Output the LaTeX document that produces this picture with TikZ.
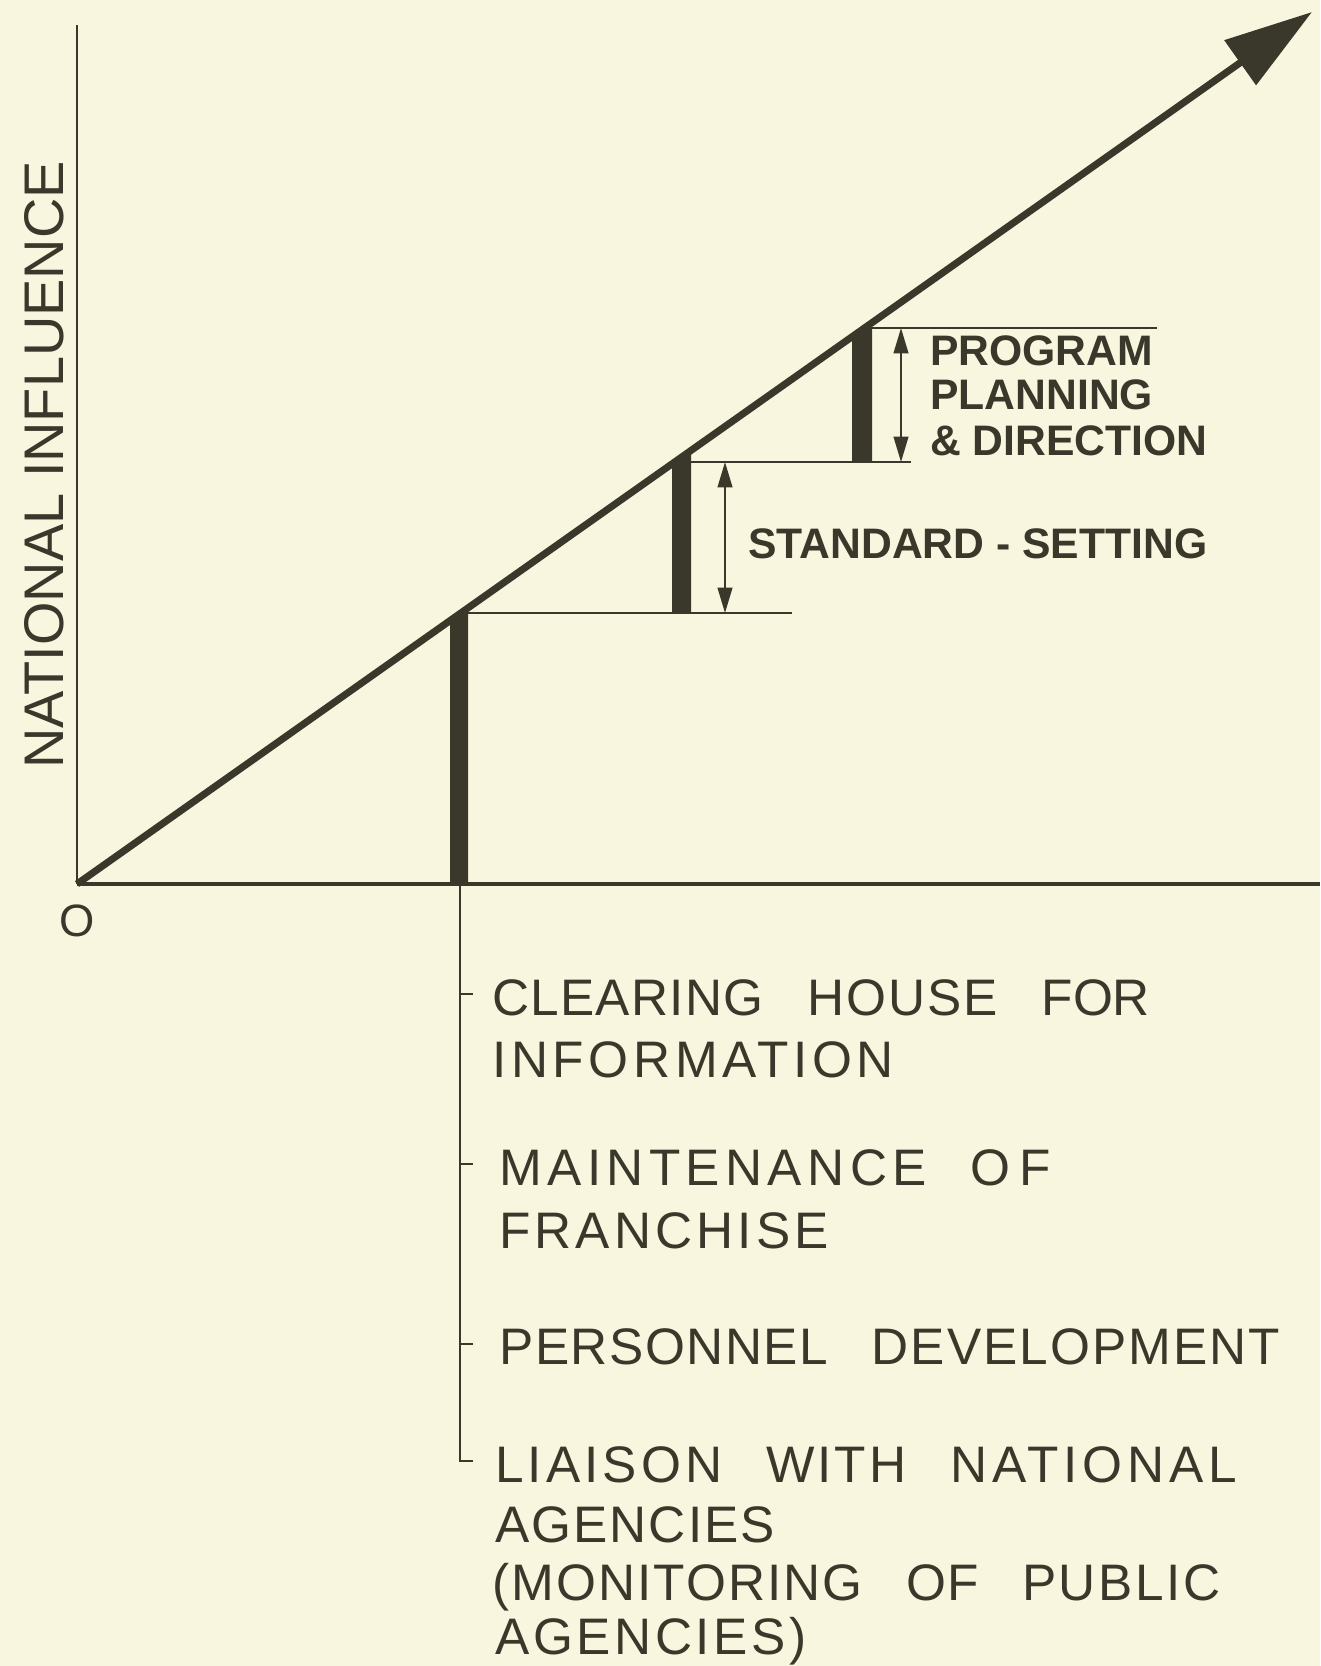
\documentclass[tikz,border=0pt]{standalone}
\usepackage{fontspec}
\setmainfont{Liberation Sans}
\newfontfamily\lowfont[LetterSpace=5]{Liberation Sans}
\usetikzlibrary{arrows.meta}
\definecolor{ink}{RGB}{58,56,42}
\definecolor{paper}{RGB}{248,246,222}
\newcommand\wsp{\hspace{0.85em}}
\newcommand\lsw[2]{{\addfontfeature{LetterSpace=#1}#2}}
\tikzset{
  lowtext/.style={anchor=base west, inner sep=0pt, text=ink, font=\lowfont\fontsize{38.5}{40}\selectfont},
  toptext/.style={anchor=base west, inner sep=0pt, text=ink, font=\fontsize{32}{36}\selectfont\bfseries},
  axisline/.style={draw=ink, line width=2.2pt},
  thinline/.style={draw=ink, line width=1.5pt},
  tickline/.style={draw=ink, line width=1.8pt},
  barfill/.style={fill=ink},
  dimarrow/.style={draw=ink, line width=1.5pt, {Triangle[length=19pt,width=11pt]}-{Triangle[length=19pt,width=11pt]}},
  mainarrow/.style={draw=ink, line width=5.3pt, -{Triangle[length=66pt,width=40pt]}}
}
\begin{document}
\begin{tikzpicture}[x=0.75pt,y=-0.75pt]
\fill[paper] (0,0) rectangle (1320,1666);
\useasboundingbox (0,0) rectangle (1320,1666);
% key points
\coordinate (o) at (77,884);
\coordinate (ytop) at (77,25);
\coordinate (xend) at (1320,884);
\coordinate (tip) at (1312,12);
% axes
\draw[axisline] (o) -- (ytop);
\draw[axisline, line width=2.6pt] (o) -- (xend);
% step lines
\coordinate (s1a) at (461,613); \coordinate (s1b) at (792,613);
\coordinate (s2a) at (675,462); \coordinate (s2b) at (911,462);
\coordinate (s3a) at (864,328); \coordinate (s3b) at (1157,328);
\draw[thinline] (s1a) -- (s1b);
\draw[thinline] (s2a) -- (s2b);
\draw[thinline] (s3a) -- (s3b);
% bars
\fill[barfill] (450,620.6) -- (468,607.9) -- (468,884) -- (450,884) -- cycle;
\fill[barfill] (672,463.9) -- (691,450.5) -- (691,613) -- (672,613) -- cycle;
\fill[barfill] (852,336.8) -- (872,322.7) -- (872,462) -- (852,462) -- cycle;
% main diagonal arrow
\draw[mainarrow] (o) -- (tip);
% dimension arrows
\coordinate (d1b) at (725,613); \coordinate (d1t) at (725,462);
\coordinate (d2b) at (901,462); \coordinate (d2t) at (901,328);
\draw[dimarrow] (d1b) -- (d1t);
\draw[dimarrow] (d2b) -- (d2t);
% labels
\node[rotate=90, inner sep=0pt, text=ink, font=\fontsize{41.9}{44}\selectfont] (ylab) at (44,465) {NATIONAL INFLUENCE};
\node[inner sep=0pt, text=ink, font=\fontsize{34}{36}\selectfont] (olab) at (77,921) {O};
\node[toptext] (pp1) at (930,365) {PROGRAM};
\node[toptext] (pp2) at (930,409) {PLANNING};
\node[toptext] (pp3) at (930,455) {\& DIRECTION};
\node[toptext] (ss) at (748,558) {STANDARD - SETTING};
% lower list
\node[lowtext] (c1) at (492,1015) {\lsw{2.5}{CLEARING}\wsp\lsw{4}{HOUSE}\wsp\lsw{0}{FOR}};
\node[lowtext] (c2) at (492,1077) {\lsw{9}{INFORMATION}};
\node[lowtext] (m1) at (499,1185) {\lsw{10.5}{MAINTENANCE}\wsp\lsw{18}{OF}};
\node[lowtext] (m2) at (499,1248) {\lsw{8}{FRANCHISE}};
\node[lowtext] (p1) at (499,1364) {\lsw{3}{PERSONNEL}\wsp\lsw{4}{DEVELOPMENT}};
\node[lowtext] (l1) at (495,1482) {\lsw{8}{LIAISON}\wsp\lsw{6}{WITH}\wsp\lsw{9.5}{NATIONAL}};
\node[lowtext] (l2) at (495,1542) {\lsw{4}{AGENCIES}};
\node[lowtext] (l3) at (492,1600) {\lsw{4}{(MONITORING}\wsp\lsw{2}{OF}\wsp\lsw{5}{PUBLIC}};
\node[lowtext] (l4) at (495,1654) {\lsw{7}{AGENCIES)}};
% tree
\coordinate (tr0) at (460,884);
\coordinate (tr1) at (460,994); \coordinate (tk1) at (473,994);
\coordinate (tr2) at (460,1164); \coordinate (tk2) at (473,1164);
\coordinate (tr3) at (460,1344); \coordinate (tk3) at (473,1344);
\coordinate (tr4) at (460,1461); \coordinate (tk4) at (473,1461);
\draw[thinline] (tr0) -- (tr4) -- (tk4);
\draw[tickline] (tr1) -- (tk1);
\draw[tickline] (tr2) -- (tk2);
\draw[tickline] (tr3) -- (tk3);
\end{tikzpicture}
\end{document}
